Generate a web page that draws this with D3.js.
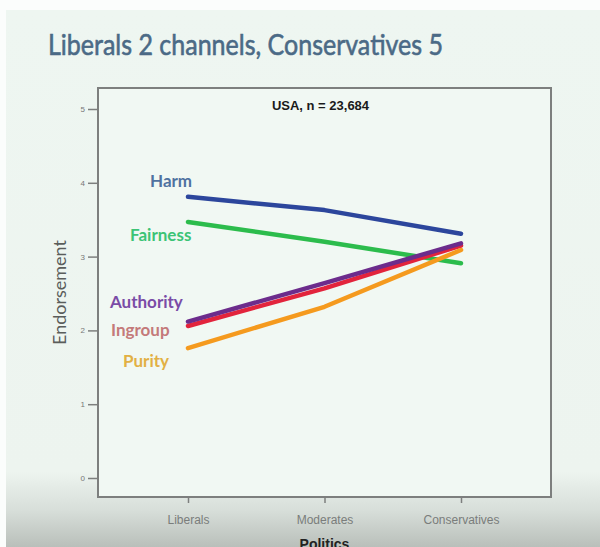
<!DOCTYPE html>
<html>
<head>
<meta charset="utf-8">
<script src="https://cdn.jsdelivr.net/npm/d3@7"></script>
<style>
  body { margin: 0; background: #fbfdfc; }
  svg { display: block; }
</style>
</head>
<body>
<svg id="chart" width="600" height="547"></svg>
<script>
// values
const groups = ['Liberals', 'Moderates', 'Conservatives'];
const foundations = ['Harm', 'Fairness', 'Authority', 'Ingroup', 'Purity'];
const harm = [3.81, 3.63, 3.31];
const fairness = [3.47, 3.20, 2.91];
const ingroup = [2.06, 2.57, 3.15];
const authority = [2.12, 2.64, 3.18];
const purity = [1.76, 2.32, 3.09];
const yTicks = [0, 1, 2, 3, 4, 5];

const series = [
  { name: 'Harm', values: harm, color: '#2c469c', label: '#4f72a0', dx: -38, dy: -10 },
  { name: 'Fairness', values: fairness, color: '#2cbc4c', label: '#3cc476', dx: -58, dy: 19 },
  { name: 'Ingroup', values: ingroup, color: '#e2243c', label: '#c47a7a', dx: -77, dy: 10 },
  { name: 'Authority', values: authority, color: '#6c2c8c', label: '#7a4ca6', dx: -78, dy: -14 },
  { name: 'Purity', values: purity, color: '#f59a1e', label: '#e2b044', dx: -65, dy: 19 }
];

const svg = d3.select('#chart');

// slide background
const defs = svg.append('defs');
const grad = defs.append('linearGradient').attr('id', 'bg')
  .attr('x1', 0).attr('y1', 0).attr('x2', 0).attr('y2', 1);
grad.append('stop').attr('offset', '0%').attr('stop-color', '#eef6f1');
grad.append('stop').attr('offset', '86%').attr('stop-color', '#edf4ef');
grad.append('stop').attr('offset', '93%').attr('stop-color', '#d8dfda');
grad.append('stop').attr('offset', '100%').attr('stop-color', '#b9bfba');
svg.append('rect').attr('x', 6).attr('y', 10).attr('width', 594).attr('height', 537)
  .attr('fill', 'url(#bg)');

svg.append('text')
  .attr('x', 48).attr('y', 55)
  .attr('font-family', 'Lato, sans-serif')
  .attr('font-size', 29)
  .attr('textLength', 395).attr('lengthAdjust', 'spacingAndGlyphs')
  .attr('fill', '#4b6a86')
  .attr('stroke', '#4b6a86').attr('stroke-width', 0.6)
  .text('Liberals 2 channels, Conservatives 5');

const box = { left: 98, top: 88, right: 551, bottom: 497 };

const x = d3.scalePoint().domain(groups).range([188, 461]);
const y = d3.scaleLinear().domain([0, 5]).range([478, 109]);

svg.append('rect')
  .attr('x', box.left).attr('y', box.top)
  .attr('width', box.right - box.left).attr('height', box.bottom - box.top)
  .attr('fill', '#f1f8f3')
  .attr('stroke', '#7d7f7e').attr('stroke-width', 2);

const yAxis = svg.append('g')
  .attr('transform', `translate(${box.left},0)`)
  .call(d3.axisLeft(y).tickValues(yTicks).tickFormat(d3.format('d')).tickSize(10).tickPadding(3));
yAxis.select('.domain').remove();
yAxis.selectAll('line').attr('stroke', '#7d7f7e').attr('stroke-width', 1.5);
yAxis.selectAll('text').attr('font-size', 8).attr('fill', '#777')
  .attr('font-family', 'Liberation Sans, Arial, sans-serif');

const xAxis = svg.append('g')
  .attr('transform', `translate(0,${box.bottom})`)
  .call(d3.axisBottom(x).tickSize(6).tickPadding(12));
xAxis.select('.domain').remove();
xAxis.selectAll('line').attr('stroke', '#7d7f7e').attr('stroke-width', 1.5);
xAxis.selectAll('text').attr('font-size', 12).attr('fill', '#7a7d7b')
  .attr('font-family', 'Liberation Sans, Arial, sans-serif');

svg.append('text')
  .attr('x', x('Moderates')).attr('y', 549)
  .attr('text-anchor', 'middle')
  .attr('font-family', 'Liberation Sans, Arial, sans-serif')
  .attr('font-weight', 'bold').attr('font-size', 14).attr('fill', '#222')
  .text('Politics');

svg.append('text')
  .attr('transform', `translate(66,${(box.top + box.bottom) / 2}) rotate(-90)`)
  .attr('text-anchor', 'middle')
  .attr('font-family', 'Lato, sans-serif')
  .attr('font-size', 18).attr('fill', '#5a5d5b')
  .text('Endorsement');

svg.append('text')
  .attr('x', (box.left + box.right) / 2 - 4).attr('y', 110)
  .attr('text-anchor', 'middle')
  .attr('font-family', 'Liberation Sans, Arial, sans-serif')
  .attr('font-weight', 'bold').attr('font-size', 13).attr('fill', '#1a1a1a')
  .text('USA, n = 23,684');

const line = d3.line()
  .x((d, i) => x(groups[i]))
  .y(d => y(d));

svg.selectAll('.series').data(series).enter().append('path')
  .attr('class', 'series')
  .attr('d', s => line(s.values))
  .attr('fill', 'none')
  .attr('stroke', s => s.color)
  .attr('stroke-width', 4.5)
  .attr('stroke-linecap', 'round')
  .attr('stroke-linejoin', 'round');

svg.selectAll('.label').data(series).enter().append('text')
  .attr('class', 'label')
  .attr('x', s => x(groups[0]) + s.dx)
  .attr('y', s => y(s.values[0]) + s.dy)
  .attr('font-family', 'Lato, sans-serif')
  .attr('font-weight', 'bold')
  .attr('font-size', 17)
  .attr('fill', s => s.label)
  .text(s => s.name);
</script>
</body>
</html>
